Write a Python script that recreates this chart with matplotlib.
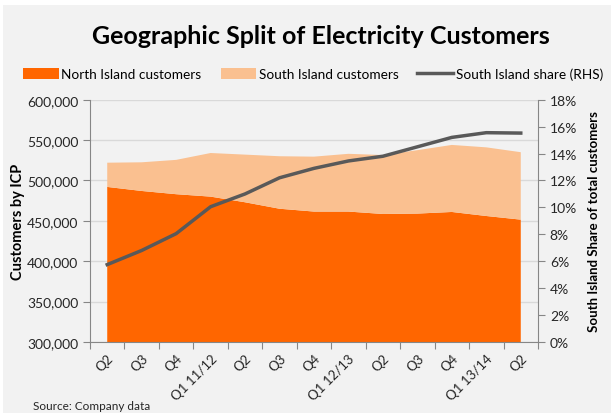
import numpy as np
import matplotlib.pyplot as plt
from matplotlib.patches import Rectangle, Patch
from matplotlib.lines import Line2D
from matplotlib.ticker import FuncFormatter, MultipleLocator

plt.rcParams['font.family'] = ['Lato', 'DejaVu Sans']

# Quarterly data
quarters = ['Q2', 'Q3', 'Q4', 'Q1 11/12', 'Q2', 'Q3', 'Q4', 'Q1 12/13',
            'Q2', 'Q3', 'Q4', 'Q1 13/14', 'Q2']
north = [492000, 487000, 483000, 480000, 473000, 465000, 461500, 461500,
         458500, 459000, 461000, 456000, 451500]
total = [522000, 522500, 525500, 534000, 532000, 530000, 529500, 533000,
         531500, 537500, 544000, 541000, 535000]
south = [t - n for t, n in zip(total, north)]
share = [5.75, 6.8, 8.05, 10.05, 11.0, 12.2, 12.9, 13.45, 13.8, 14.5,
         15.2, 15.55, 15.52]

bg = '#f2f2f2'
dark = '#ff6600'
light = '#fac090'
grey_line = '#595959'
axis_col = '#868686'

W, H = 611, 414
fig = plt.figure(figsize=(W / 100, H / 100), dpi=100)
fig.patch.set_facecolor('white')
fig.patches.append(Rectangle((3 / W, 0), 1, 1 - 6 / H, transform=fig.transFigure,
                             facecolor=bg, edgecolor='none', zorder=-10))

ax = fig.add_axes([90 / W, 1 - 343 / H, (538 - 90) / W, (343 - 100.7) / H])
ax.set_facecolor(bg)
x = np.arange(len(quarters))

ax.stackplot(x, north, south, colors=[dark, light], baseline='zero', zorder=2)
ax.set_ylim(300000, 600000)
ax.set_xlim(-0.5, len(quarters) - 0.5)
ax.yaxis.set_major_locator(MultipleLocator(50000))
ax.yaxis.set_major_formatter(FuncFormatter(lambda v, p: f'{int(v):,}'))
ax.grid(axis='y', color='#d9d9d9', linewidth=1, zorder=0)
ax.set_axisbelow(True)

ax.set_xticks(np.arange(-0.5, len(quarters)), labels=[])
ax.set_xticks(x, labels=quarters, minor=True)
ax.tick_params(axis='x', which='major', length=5, color=axis_col, direction='out')
ax.tick_params(axis='x', which='minor', length=0, pad=7)
for lab in ax.get_xticklabels(minor=True):
    lab.set_rotation(45)
    lab.set_ha('right')
    lab.set_rotation_mode('anchor')
    lab.set_fontsize(9.5)
    lab.set_color('#262626')

ax.tick_params(axis='y', length=5, color=axis_col, labelsize=10, labelcolor='#262626')
for s in ['top', 'right']:
    ax.spines[s].set_visible(False)
for s in ['left', 'bottom']:
    ax.spines[s].set_color(axis_col)
ax.set_ylabel('Customers by ICP', fontsize=10.5, fontweight='bold', labelpad=1)

ax2 = ax.twinx()
ax2.plot(x, share, color=grey_line, linewidth=2.5, zorder=5)
ax2.set_ylim(0, 18)
ax2.yaxis.set_major_locator(MultipleLocator(2))
ax2.yaxis.set_major_formatter(FuncFormatter(lambda v, p: f'{int(round(v))}%'))
ax2.tick_params(axis='y', length=5, color=axis_col, labelsize=10, labelcolor='#262626')
for s in ['top', 'left', 'bottom']:
    ax2.spines[s].set_visible(False)
ax2.spines['right'].set_color(axis_col)
ax2.set_ylabel('South Island Share of total customers', fontsize=9.5,
               fontweight='bold', labelpad=8)

fig.text(321 / W, 1 - 37 / H, 'Geographic Split of Electricity Customers',
         ha='center', va='center', fontsize=18, fontweight='bold')

handles = [Patch(facecolor=dark, edgecolor='none'),
           Patch(facecolor=light, edgecolor='none'),
           Line2D([0], [0], color=grey_line, linewidth=2.5)]
labels = ['North Island customers', 'South Island customers',
          'South Island share (RHS)']
fig.legend(handles, labels, loc='center', bbox_to_anchor=(313 / W, 1 - 75 / H),
           ncol=3, frameon=False, fontsize=9.8, handlelength=2.6,
           handleheight=0.9, handletextpad=0.2, columnspacing=1.4)

fig.text(33 / W, 1 - 401 / H, 'Source: Company data', ha='left', va='top',
         fontsize=8.5, color='#262626')

fig.savefig('out.png', dpi=100, facecolor=fig.get_facecolor())
